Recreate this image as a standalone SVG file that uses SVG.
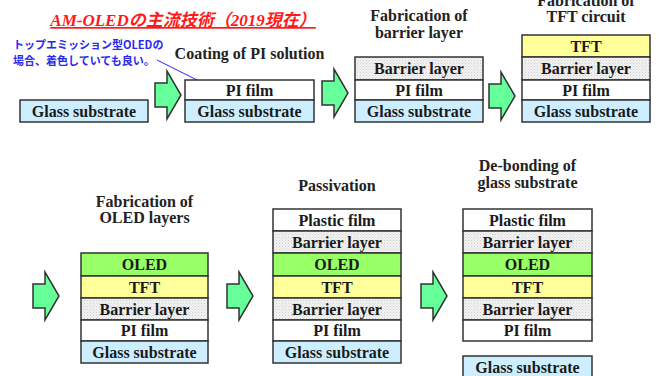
<svg xmlns="http://www.w3.org/2000/svg" width="661" height="376" viewBox="0 0 661 376">
  <style>
    .bg { fill: #ffffff; }
    .layer { stroke: #333333; stroke-width: 1.5; }
    .glass { fill: #cdeeff; }
    .pi { fill: #ffffff; }
    .plastic { fill: #ffffff; }
    .tft { fill: #ffff99; }
    .oled { fill: #99ff66; }
    .barrier { fill: url(#dots); }
    .lbl { font-family: "Liberation Serif", "Times New Roman", serif; font-weight: bold; font-size: 16px; fill: #1a1a1a; text-anchor: middle; }
    .head { font-family: "Liberation Serif", "Times New Roman", serif; font-weight: bold; font-size: 16px; fill: #222222; text-anchor: middle; }
    .title { font-family: "Liberation Serif", "Noto Sans CJK JP", serif; font-weight: bold; font-style: italic; font-size: 17px; fill: #ff1a1a; text-decoration: underline; }
    .note { font-family: "Noto Sans CJK JP", "Noto Sans", sans-serif; font-weight: bold; font-size: 11px; fill: #2a2aee; }
    .step { fill: #66ff99; stroke: #333333; stroke-width: 1.5; stroke-linejoin: miter; }
  </style>
  <defs>
    <pattern id="dots" width="3" height="3" patternUnits="userSpaceOnUse">
      <rect width="3" height="3" fill="#f2f2f2"/>
      <rect x="0" y="0" width="1" height="1" fill="#cfcfcf"/>
      <rect x="1.5" y="1.5" width="1" height="1" fill="#dcdcdc"/>
    </pattern>
    <path id="step" d="M0,-12 H12 V-24 L26,0 L12,24 V12 H0 Z"/>
    <marker id="tip" viewBox="0 0 8 8" refX="7" refY="4" markerWidth="6" markerHeight="6" orient="auto">
      <path d="M0,1 L8,4 L0,7 Z" fill="#2a2aee"/>
    </marker>
  </defs>

  <rect class="bg" width="661" height="376"/>

  <!-- title -->
  <text class="title" x="183" y="26" text-anchor="middle">AM-OLEDの主流技術（2019現在）</text>

  <!-- note about top-emission -->
  <g id="note">
    <text class="note" x="13" y="49">トップエミッション型OLEDの</text>
    <text class="note" x="13" y="65">場合、着色していても良い。</text>
  </g>

  <!-- process arrows and pointer -->
  <g id="connectors">
    <line x1="157" y1="60" x2="213" y2="88" stroke="#2a2aee" stroke-width="1" marker-end="url(#tip)"/>
    <use href="#step" class="step" x="155" y="95"/>
    <use href="#step" class="step" x="322" y="93"/>
    <use href="#step" class="step" x="489" y="96"/>
    <use href="#step" class="step" x="33" y="296"/>
    <use href="#step" class="step" x="227" y="296"/>
    <use href="#step" class="step" x="421" y="296"/>
  </g>

  <!-- step 1: glass substrate -->
  <g id="stack1">
    <rect class="layer glass" x="20" y="100" width="128" height="22"/>
    <text class="lbl" x="84" y="116.5">Glass substrate</text>
  </g>

  <!-- step 2: PI coating -->
  <g id="stack2">
    <text class="head" x="249.5" y="59">Coating of PI solution</text>
    <rect class="layer pi" x="185" y="80" width="129" height="20"/>
    <text class="lbl" x="249.5" y="95.5">PI film</text>
    <rect class="layer glass" x="185" y="100" width="129" height="22"/>
    <text class="lbl" x="249.5" y="116.5">Glass substrate</text>
  </g>

  <!-- step 3: barrier layer -->
  <g id="stack3">
    <text class="head" x="419" y="21">Fabrication of</text>
    <text class="head" x="419" y="38">barrier layer</text>
    <rect class="layer barrier" x="355" y="57" width="128" height="23"/>
    <text class="lbl" x="419" y="74">Barrier layer</text>
    <rect class="layer pi" x="355" y="80" width="128" height="20"/>
    <text class="lbl" x="419" y="95.5">PI film</text>
    <rect class="layer glass" x="355" y="100" width="128" height="22"/>
    <text class="lbl" x="419" y="116.5">Glass substrate</text>
  </g>

  <!-- step 4: TFT circuit -->
  <g id="stack4">
    <text class="head" x="586" y="6">Fabrication of</text>
    <text class="head" x="586" y="22">TFT circuit</text>
    <rect class="layer tft" x="522" y="35" width="128" height="22"/>
    <text class="lbl" x="586" y="51.5">TFT</text>
    <rect class="layer barrier" x="522" y="57" width="128" height="23"/>
    <text class="lbl" x="586" y="74">Barrier layer</text>
    <rect class="layer pi" x="522" y="80" width="128" height="20"/>
    <text class="lbl" x="586" y="95.5">PI film</text>
    <rect class="layer glass" x="522" y="100" width="128" height="22"/>
    <text class="lbl" x="586" y="116.5">Glass substrate</text>
  </g>

  <!-- step 5: OLED layers -->
  <g id="stack5">
    <text class="head" x="144.5" y="207">Fabrication of</text>
    <text class="head" x="144.5" y="223">OLED layers</text>
    <rect class="layer oled" x="81" y="253" width="127" height="23"/>
    <text class="lbl" x="144.5" y="270">OLED</text>
    <rect class="layer tft" x="81" y="276" width="127" height="22"/>
    <text class="lbl" x="144.5" y="292.5">TFT</text>
    <rect class="layer barrier" x="81" y="298" width="127" height="22"/>
    <text class="lbl" x="144.5" y="314.5">Barrier layer</text>
    <rect class="layer pi" x="81" y="320" width="127" height="21"/>
    <text class="lbl" x="144.5" y="336">PI film</text>
    <rect class="layer glass" x="81" y="341" width="127" height="22"/>
    <text class="lbl" x="144.5" y="357.5">Glass substrate</text>
  </g>

  <!-- step 6: passivation -->
  <g id="stack6">
    <text class="head" x="337" y="191">Passivation</text>
    <rect class="layer plastic" x="273" y="209" width="128" height="22"/>
    <text class="lbl" x="337" y="225.5">Plastic film</text>
    <rect class="layer barrier" x="273" y="231" width="128" height="22"/>
    <text class="lbl" x="337" y="247.5">Barrier layer</text>
    <rect class="layer oled" x="273" y="253" width="128" height="23"/>
    <text class="lbl" x="337" y="270">OLED</text>
    <rect class="layer tft" x="273" y="276" width="128" height="22"/>
    <text class="lbl" x="337" y="292.5">TFT</text>
    <rect class="layer barrier" x="273" y="298" width="128" height="22"/>
    <text class="lbl" x="337" y="314.5">Barrier layer</text>
    <rect class="layer pi" x="273" y="320" width="128" height="21"/>
    <text class="lbl" x="337" y="336">PI film</text>
    <rect class="layer glass" x="273" y="341" width="128" height="22"/>
    <text class="lbl" x="337" y="357.5">Glass substrate</text>
  </g>

  <!-- step 7: de-bonding -->
  <g id="stack7">
    <text class="head" x="527.5" y="171">De-bonding of</text>
    <text class="head" x="527.5" y="188">glass substrate</text>
    <rect class="layer plastic" x="463" y="209" width="129" height="22"/>
    <text class="lbl" x="527.5" y="225.5">Plastic film</text>
    <rect class="layer barrier" x="463" y="231" width="129" height="22"/>
    <text class="lbl" x="527.5" y="247.5">Barrier layer</text>
    <rect class="layer oled" x="463" y="253" width="129" height="23"/>
    <text class="lbl" x="527.5" y="270">OLED</text>
    <rect class="layer tft" x="463" y="276" width="129" height="22"/>
    <text class="lbl" x="527.5" y="292.5">TFT</text>
    <rect class="layer barrier" x="463" y="298" width="129" height="22"/>
    <text class="lbl" x="527.5" y="314.5">Barrier layer</text>
    <rect class="layer pi" x="463" y="320" width="129" height="21"/>
    <text class="lbl" x="527.5" y="336">PI film</text>
  </g>
  <g id="glass7">
    <rect class="layer glass" x="463" y="356" width="129" height="24"/>
    <text class="lbl" x="527.5" y="373">Glass substrate</text>
  </g>
</svg>
